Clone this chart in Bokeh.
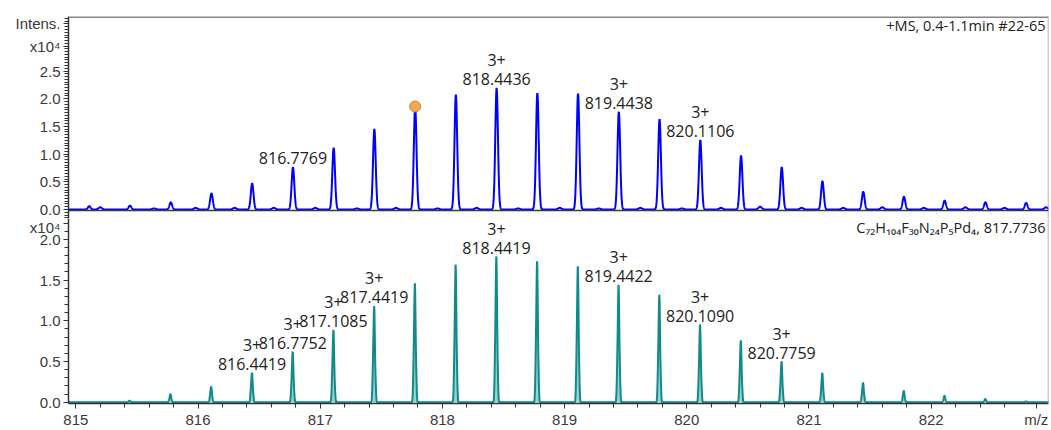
import numpy as np
from bokeh.plotting import figure
from bokeh.layouts import column
from bokeh.models import (ColumnDataSource, FixedTicker, PrintfTickFormatter,
                          Range1d, Label, Span)
from bokeh.core.properties import value
from bokeh.embed import file_html
from bokeh.resources import INLINE

# ---- measured spectrum (+MS), intensities in units of 1e4 ----
meas_mz = [815.110, 815.443, 815.777, 816.110, 816.443, 816.7769, 817.110,
           817.443, 817.777, 818.110, 818.4436, 818.777, 819.110, 819.4438,
           819.777, 820.1106, 820.444, 820.777, 821.110, 821.444, 821.777,
           822.110, 822.444, 822.777]
meas_int = [0.06, 0.07, 0.13, 0.29, 0.47, 0.76, 1.11, 1.45, 1.86, 2.07, 2.19,
            2.10, 2.09, 1.76, 1.63, 1.25, 0.97, 0.76, 0.51, 0.32, 0.23, 0.16,
            0.13, 0.12]
# small background signals between the isotope peaks
bg_mz = [815.20, 815.64, 815.98, 816.30, 816.62, 816.96, 817.30, 817.62,
         817.96, 818.28, 818.62, 818.96, 819.28, 819.62, 819.96, 820.28,
         820.60, 820.94, 821.28, 821.60, 821.94, 822.28, 822.60, 822.94]
bg_int = [0.04, 0.02, 0.03, 0.03, 0.03, 0.03, 0.02, 0.03, 0.02, 0.03, 0.02,
          0.03, 0.02, 0.03, 0.02, 0.03, 0.05, 0.03, 0.03, 0.04, 0.03, 0.04,
          0.03, 0.04]
meas_label_mz = [816.7769, 818.4436, 819.4438, 820.1106]
meas_label_z = ["", "3+", "3+", "3+"]
marked_mz = [817.777]

# ---- simulated isotope pattern C72H104F30N24P5Pd4 ----
sim_mz = [815.441, 815.775, 816.108, 816.4419, 816.7752, 817.1085, 817.4419,
          817.7752, 818.1086, 818.4419, 818.7753, 819.1087, 819.4422,
          819.7756, 820.1090, 820.4425, 820.7759, 821.1094, 821.4428,
          821.7763, 822.1097, 822.4432, 822.7766]
sim_int = [0.02, 0.10, 0.19, 0.36, 0.62, 0.89, 1.18, 1.46, 1.69, 1.79, 1.73,
           1.67, 1.44, 1.32, 0.95, 0.76, 0.50, 0.36, 0.24, 0.14, 0.08, 0.04,
           0.01]
sim_label_mz = [816.4419, 816.7752, 817.1085, 817.4419, 818.4419, 819.4422,
                820.1090, 820.7759]
sim_label_z = ["3+"] * 8

x_ticks = [815, 816, 817, 818, 819, 820, 821, 822]
x_unit_pos = 822.86
top_y_ticks = [0.0, 0.5, 1.0, 1.5, 2.0, 2.5]
bot_y_ticks = [0.0, 0.5, 1.0, 1.5, 2.0]
top_unit_pos, top_title_pos = 2.95, 3.35
bot_unit_pos = 2.2

BLUE = "#0000FF"
TEAL = "#118A8A"
TEAL_LIGHT = "#6FBDBD"
AXIS = "#333333"
TICK_FONT = "Liberation Sans"
ANN_FONT = "Open Sans"

X0, X1 = 814.94, 822.96
grid = np.linspace(814.9, 823.0, 8101)


def gauss(center, height, sigma):
    return height * np.exp(-0.5 * ((grid - center) / sigma) ** 2)


# profile curves built from the stick lists
meas_curve = np.zeros_like(grid)
for m, h in zip(meas_mz, meas_int):
    meas_curve += gauss(m, h, 0.011)
for m, h in zip(bg_mz, bg_int):
    meas_curve += gauss(m, h, 0.014)

sim_curve = np.zeros_like(grid)
for m, h in zip(sim_mz, sim_int):
    shape = (gauss(m, 1.0, 0.0055) + gauss(m - 0.010, 0.30, 0.005)
             + gauss(m + 0.011, 0.15, 0.004))
    sim_curve += h * shape / shape.max()


def label_source(label_mz, charges, mz_list, int_list):
    heights = [int_list[int(np.argmin(np.abs(np.array(mz_list) - m)))]
               for m in label_mz]
    return ColumnDataSource(dict(x=label_mz, y=heights,
                                 mass=[f"{m:.4f}" for m in label_mz],
                                 z=charges))


x_range = Range1d(X0, X1)


def style(p):
    p.outline_line_color = None
    p.grid.visible = False
    for ax in p.axis:
        ax.axis_line_color = AXIS
        ax.axis_line_width = 1.5
        ax.major_tick_line_color = AXIS
        ax.minor_tick_line_color = AXIS
        ax.major_tick_in = 0
        ax.minor_tick_in = 0
        ax.major_tick_out = 5
        ax.minor_tick_out = 4
        ax.major_label_text_font = TICK_FONT
        ax.major_label_text_font_size = "15px"
        ax.major_label_text_color = "#3a3a3a"
        ax.major_label_standoff = 3
    p.yaxis.formatter = PrintfTickFormatter(format="%.1f")
    p.add_layout(Span(location=X1, dimension="height", line_color="#9a9a9a",
                      line_width=1.5))


def add_peak_labels(p, src):
    p.text(x="x", y="y", text="mass", source=src, text_align="center",
           text_baseline="bottom", y_offset=-3, text_font=value(ANN_FONT),
           text_font_size="16px", text_color="#222222")
    p.text(x="x", y="y", text="z", source=src, text_align="center",
           text_baseline="bottom", y_offset=-22, text_font=value(ANN_FONT),
           text_font_size="16px", text_color="#222222")


# ---------------- top: measured ----------------
top = figure(width=1051, height=218, x_range=x_range,
             y_range=Range1d(-0.162, 3.484), x_axis_location=None,
             output_backend="svg", toolbar_location=None,
             min_border_left=68, min_border_right=3, min_border_top=16,
             min_border_bottom=0)
style(top)
top.yaxis.ticker = FixedTicker(
    ticks=top_y_ticks + [top_unit_pos, top_title_pos],
    minor_ticks=list(np.round(np.arange(-0.15, 3.5, 0.05), 2)))
top.yaxis.major_label_overrides = {top_unit_pos: "x10⁴",
                                   top_title_pos: "Intens."}
# upper frame edge and the divider between the two panels
top.add_layout(Span(location=3.484, dimension="width", line_color="#858585",
                    line_width=3))
top.add_layout(Span(location=-0.018, dimension="width", line_color="#3a3a3a",
                    line_width=1.5))

top.line(grid, meas_curve, line_color=BLUE, line_width=2)
add_peak_labels(top, label_source(meas_label_mz, meas_label_z,
                                  meas_mz, meas_int))

mark_h = [meas_int[meas_mz.index(m)] for m in marked_mz]
top.scatter(marked_mz, mark_h, size=11, fill_color="#F2AA4C",
            line_color="#C98A3A", line_width=1)

top.add_layout(Label(x=977, y=193, x_units="screen", y_units="screen",
                     text="+MS, 0.4-1.1min #22-65", text_align="right",
                     text_baseline="middle", text_font=ANN_FONT,
                     text_font_size="14.5px", text_color="#222222"))

# ---------------- bottom: simulated ----------------
bot = figure(width=1051, height=212, x_range=x_range,
             y_range=Range1d(-0.015, 2.257),
             output_backend="svg", toolbar_location=None,
             min_border_left=68, min_border_right=3, min_border_top=0,
             min_border_bottom=25)
style(bot)
bot.yaxis.ticker = FixedTicker(
    ticks=bot_y_ticks + [bot_unit_pos],
    minor_ticks=list(np.round(np.arange(0, 2.3, 0.1), 2)))
bot.yaxis.major_label_overrides = {bot_unit_pos: "x10⁴"}
x_minor = [t for t in np.round(np.arange(815, 823.01, 0.2), 2) if t < 822.7]
bot.xaxis.ticker = FixedTicker(ticks=x_ticks + [x_unit_pos],
                               minor_ticks=x_minor)
bot.xaxis.major_label_overrides = {x_unit_pos: "m/z"}
bot.xaxis.major_label_standoff = 2

bot.varea(x=grid, y1=0, y2=sim_curve, fill_color=TEAL_LIGHT, fill_alpha=0.7)
bot.line(grid, sim_curve, line_color=TEAL, line_width=2)
add_peak_labels(bot, label_source(sim_label_mz, sim_label_z,
                                  sim_mz, sim_int))

bot.add_layout(Label(x=977, y=186, x_units="screen", y_units="screen",
                     text="C₇₂H₁₀₄F₃₀N₂₄P₅Pd₄, 817.7736", text_align="right",
                     text_baseline="top", text_font=ANN_FONT,
                     text_font_size="14.5px", text_color="#222222"))

layout = column(top, bot, spacing=0)
open("out.html", "w").write(file_html(layout, INLINE))
